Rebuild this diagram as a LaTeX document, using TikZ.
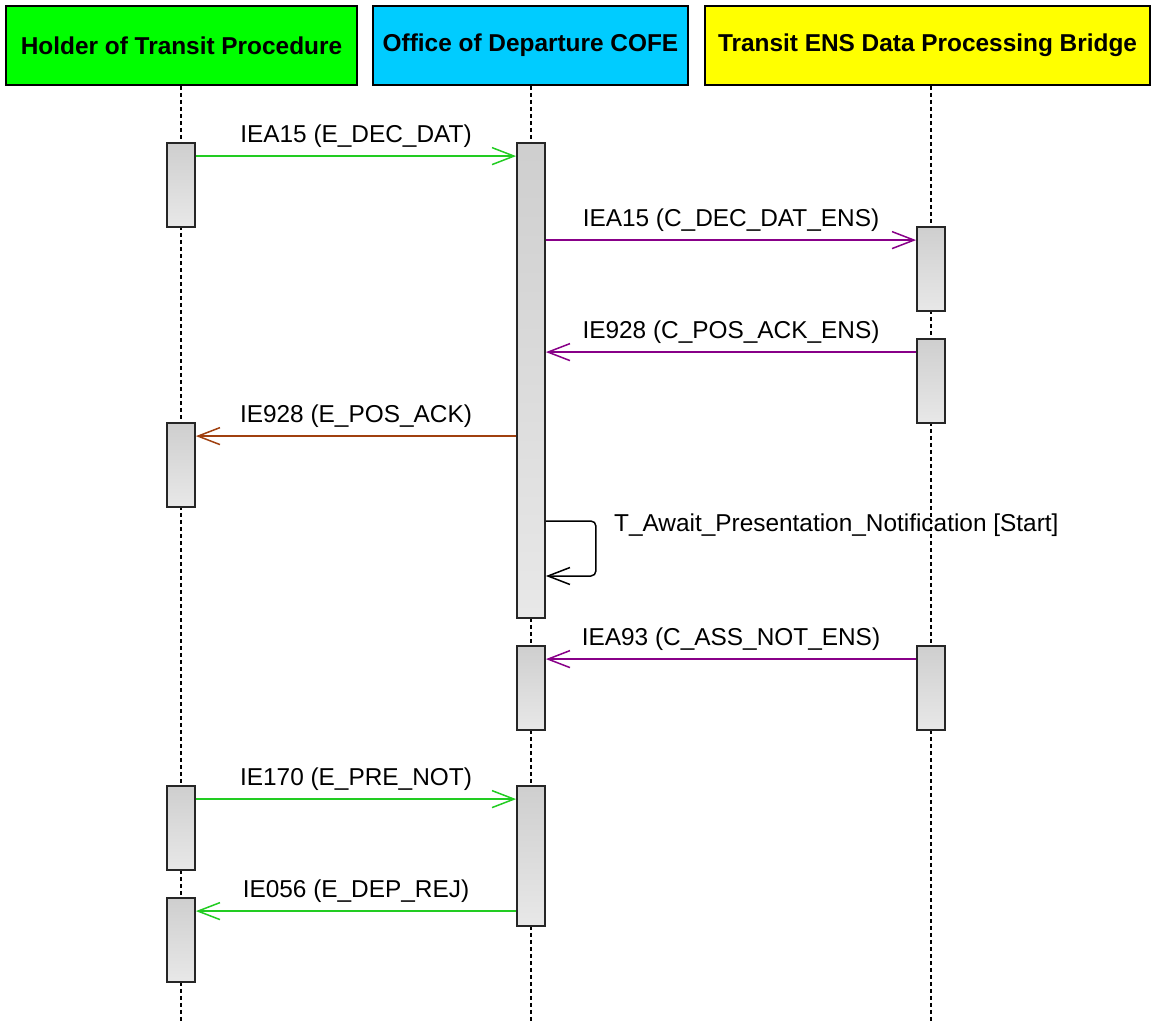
\documentclass[tikz,border=0pt]{standalone}
\usepackage{fontspec}
\setmainfont{Liberation Sans}
\usetikzlibrary{arrows.meta,positioning,calc,backgrounds}
\definecolor{holder}{HTML}{00FF00}
\definecolor{office}{HTML}{00CCFF}
\definecolor{bridge}{HTML}{FFFF00}
\definecolor{msggreen}{HTML}{22CC22}
\definecolor{msgpurple}{HTML}{880088}
\definecolor{msgbrown}{HTML}{A0400F}
\tikzset{
  actor/.style={draw=black,line width=1.5pt,minimum height=79pt,inner sep=0pt,
    font=\fontsize{24.4}{29}\selectfont\bfseries},
  bar/.style={draw=black!85,line width=1.8pt,minimum width=28pt,inner sep=0pt,
    top color=black!19,bottom color=black!9},
  life/.style={line width=1.3pt,dash pattern=on 4pt off 3pt},
  msg/.style={-{Straight Barb[length=22pt,width=17pt]},line width=1.5pt},
  notelabel/.style={font=\fontsize{24.4}{29}\selectfont,text=black,inner sep=0pt},
  msglabel/.style={notelabel,anchor=base,yshift=14pt}
}

\begin{document}
\begin{tikzpicture}[x=1pt,y=-1pt]
\useasboundingbox (0,0) rectangle (1157,1023);
\node[actor,fill=holder,minimum width=351pt] (hd1) at (181.5,45.5) {Holder of Transit Procedure};
\node[actor,fill=office,minimum width=315pt] (hd2) at (530.5,45.5) {Office of Departure COFE};
\node[actor,fill=bridge,minimum width=445pt] (hd3) at (927.5,45.5) {Transit ENS Data Processing Bridge};
\foreach \n/\x/\t/\b in {h1/181/143/227,h2/181/423/507,h3/181/786/870,h4/181/898/982,
    o1/531/143/618,o2/531/646/730,o3/531/786/926,
    b1/931/227/311,b2/931/339/423,b3/931/646/730}
  \node[bar,minimum height={(\b-\t)*1pt}] (\n) at (\x,{(\t+\b)/2}) {};
\coordinate (bottom) at (0,1021);
\begin{scope}[on background layer]
\draw[life] (hd1.south -| h1) -- (h1 |- bottom);
\draw[life] (hd2.south -| o1) -- (o1 |- bottom);
\draw[life] (hd3.south -| b1) -- (b1 |- bottom);
\end{scope}
\coordinate (m1) at ([yshift=-14pt]h1.north east);
\draw[msg,msggreen] (m1) -- (m1 -| o1.west) node[msglabel,midway] {IEA15 (E\_DEC\_DAT)};
\coordinate (m2) at ([yshift=-14pt]b1.north west);
\draw[msg,msgpurple] (m2 -| o1.east) -- (m2) node[msglabel,midway] {IEA15 (C\_DEC\_DAT\_ENS)};
\coordinate (m3) at ([yshift=-14pt]b2.north west);
\draw[msg,msgpurple] (m3) -- (m3 -| o1.east) node[msglabel,midway] {IE928 (C\_POS\_ACK\_ENS)};
\coordinate (m4) at ([yshift=-14pt]h2.north east);
\draw[msg,msgbrown] (m4 -| o1.west) -- (m4) node[msglabel,midway] {IE928 (E\_POS\_ACK)};
\coordinate (s1) at (o1.east |- 0,521);
\coordinate (s2) at (o1.east |- 0,576);
\draw[msg,black,rounded corners=5pt] (s1) -- ++(50,0) |- (s2);
\node[notelabel,anchor=base west] (selflbl) at ($(s1)+(68,10)$)
  {T\_Await\_Presentation\_Notification [Start]};
\coordinate (m6) at ([yshift=-14pt]b3.north west);
\draw[msg,msgpurple] (m6) -- (m6 -| o2.east) node[msglabel,midway] {IEA93 (C\_ASS\_NOT\_ENS)};
\coordinate (m7) at ([yshift=-14pt]h3.north east);
\draw[msg,msggreen] (m7) -- (m7 -| o3.west) node[msglabel,midway] {IE170 (E\_PRE\_NOT)};
\coordinate (m8) at ([yshift=-14pt]h4.north east);
\draw[msg,msggreen] (m8 -| o3.west) -- (m8) node[msglabel,midway] {IE056 (E\_DEP\_REJ)};
\end{tikzpicture}
\end{document}
